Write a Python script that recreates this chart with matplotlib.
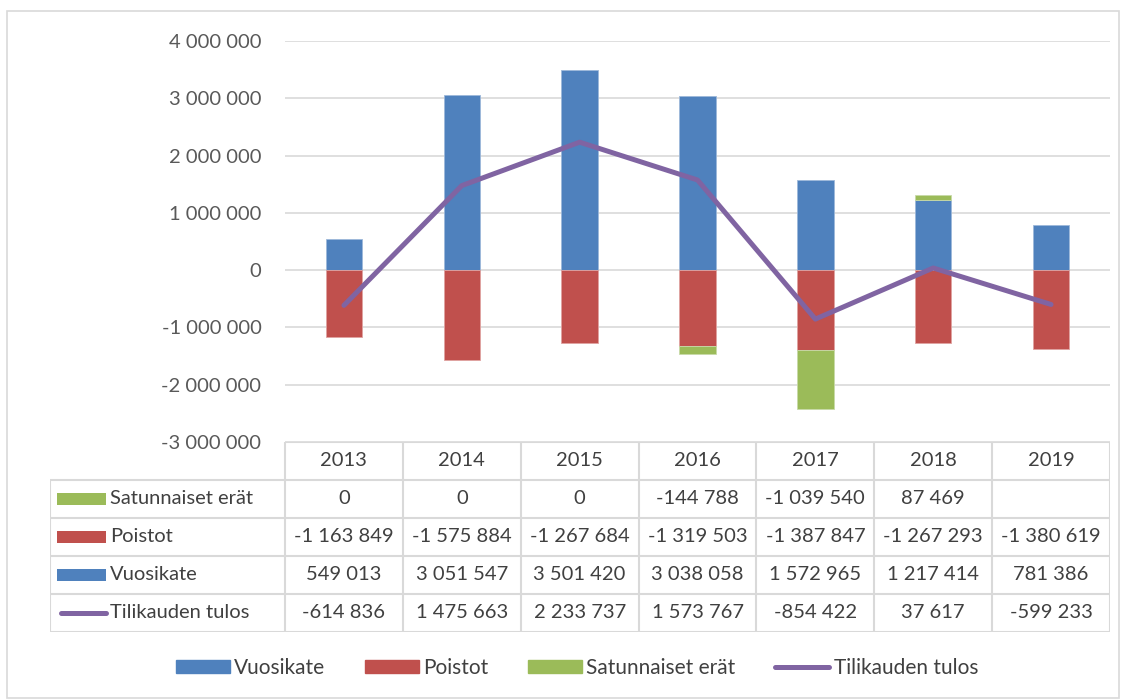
import matplotlib.pyplot as plt
import numpy as np
from matplotlib.patches import Rectangle
from matplotlib.lines import Line2D
from matplotlib.ticker import FuncFormatter, MultipleLocator

plt.rcParams['font.family'] = ['Lato', 'DejaVu Sans']

vuodet = ['2013', '2014', '2015', '2016', '2017', '2018', '2019']
vuosikate = [549013, 3051547, 3501420, 3038058, 1572965, 1217414, 781386]
poistot = [-1163849, -1575884, -1267684, -1319503, -1387847, -1267293, -1380619]
satunnaiset = [0, 0, 0, -144788, -1039540, 87469, None]
tulos = [-614836, 1475663, 2233737, 1573767, -854422, 37617, -599233]

sininen = '#4F81BD'
punainen = '#C0504D'
vihrea = '#9BBB59'
violetti = '#8064A2'
harmaa = '#D9D9D9'
teksti = '#404040'
koko = 14.5


def muotoile(v):
    if v is None:
        return ''
    s = '{:,}'.format(int(abs(v))).replace(',', ' ')
    return ('-' if v < 0 else '') + s


W, H = 1126, 700
fig = plt.figure(figsize=(W / 100, H / 100), dpi=100)

# ulkoreunus
fig.patches.append(Rectangle((7 / W, 1 - 698 / H), 1112 / W, 687 / H,
                             transform=fig.transFigure, fill=False,
                             edgecolor=harmaa, lw=1.2))

x0, x1, ytop, ybot = 285, 1110, 41, 442
ax = fig.add_axes([x0 / W, 1 - ybot / H, (x1 - x0) / W, (ybot - ytop) / H])

x = np.arange(len(vuodet))
sat = np.array([0 if v is None else v for v in satunnaiset], dtype=float)
vk = np.array(vuosikate, dtype=float)
po = np.array(poistot, dtype=float)

lev = 0.31
ax.bar(x, vk, lev, color=sininen, edgecolor='#9DB8DA', lw=0.6, zorder=2)
ax.bar(x, po, lev, color=punainen, edgecolor='#E0A3A1', lw=0.6, zorder=2)
pohja = np.where(sat >= 0, vk, po)
m = sat != 0
ax.bar(x[m], sat[m], lev, bottom=pohja[m], color=vihrea, edgecolor='#C8DAA8',
       lw=0.6, zorder=2)
ax.plot(x, tulos, color=violetti, lw=3.6, solid_capstyle='round',
        solid_joinstyle='round', zorder=3)

ax.set_xlim(-0.5, len(vuodet) - 0.5)
ax.set_ylim(-3000000, 4000000)
ax.yaxis.set_major_locator(MultipleLocator(1000000))
ax.yaxis.set_major_formatter(FuncFormatter(lambda v, p: muotoile(v)))
ax.grid(axis='y', color=harmaa, lw=1.2, zorder=0)
ax.set_axisbelow(True)
for s in ax.spines.values():
    s.set_visible(False)
ax.tick_params(axis='y', length=0, pad=17, labelsize=koko, labelcolor='#595959')
ax.tick_params(axis='x', length=0, labelbottom=False)

# datataulukko
sarake = (x1 - x0) / len(vuodet)
vasen = -0.5 - (x0 - 50) / sarake
tx = fig.add_axes([50 / W, 1 - 632 / H, (x1 - 50) / W, (632 - 442) / H])
tx.set_xlim(vasen, len(vuodet) - 0.5)
tx.set_ylim(5, 0)
tx.axis('off')

lk = dict(color=harmaa, lw=1.5, solid_capstyle='butt')
for r in range(0, 6):
    xa = -0.5 if r == 0 else vasen
    tx.plot([xa, len(vuodet) - 0.5], [r, r], **lk)
tx.plot([vasen, vasen], [1, 5], **lk)
for i in range(len(vuodet) + 1):
    tx.plot([i - 0.5, i - 0.5], [0, 5], **lk)

for i, v in enumerate(vuodet):
    tx.text(i, 0.5, v, ha='center', va='center', fontsize=koko, color=teksti)

rivit = [('Satunnaiset erät', satunnaiset, vihrea, 'bar'),
         ('Poistot', poistot, punainen, 'bar'),
         ('Vuosikate', vuosikate, sininen, 'bar'),
         ('Tilikauden tulos', tulos, violetti, 'line')]
avain = 49 / sarake
for r, (nimi, arvot, vari, tyyppi) in enumerate(rivit, start=1):
    ka = vasen + 7 / sarake
    if tyyppi == 'bar':
        tx.add_patch(Rectangle((ka, r + 0.5 - 0.16), avain, 0.32, color=vari, lw=0))
    else:
        tx.plot([ka + 0.03, ka + avain], [r + 0.5, r + 0.5], color=vari, lw=3.6,
                solid_capstyle='round')
    tx.text(ka + avain + 4 / sarake, r + 0.5, nimi, ha='left', va='center',
            fontsize=koko, color=teksti)
    for i, v in enumerate(arvot):
        tx.text(i, r + 0.5, muotoile(v), ha='center', va='center',
                fontsize=koko, color=teksti)

# selite
kahvat = [Rectangle((0, 0), 1, 1, color=sininen),
          Rectangle((0, 0), 1, 1, color=punainen),
          Rectangle((0, 0), 1, 1, color=vihrea),
          Line2D([0], [0], color=violetti, lw=3.6, solid_capstyle='round')]
fig.legend(kahvat, ['Vuosikate', 'Poistot', 'Satunnaiset erät', 'Tilikauden tulos'],
           loc='center', bbox_to_anchor=(577 / W, 1 - 668 / H), ncol=4,
           frameon=False, fontsize=15, labelcolor=teksti,
           handlelength=2.6, handleheight=0.6, handletextpad=0.2,
           columnspacing=1.9)

fig.savefig('out.png', dpi=100)
